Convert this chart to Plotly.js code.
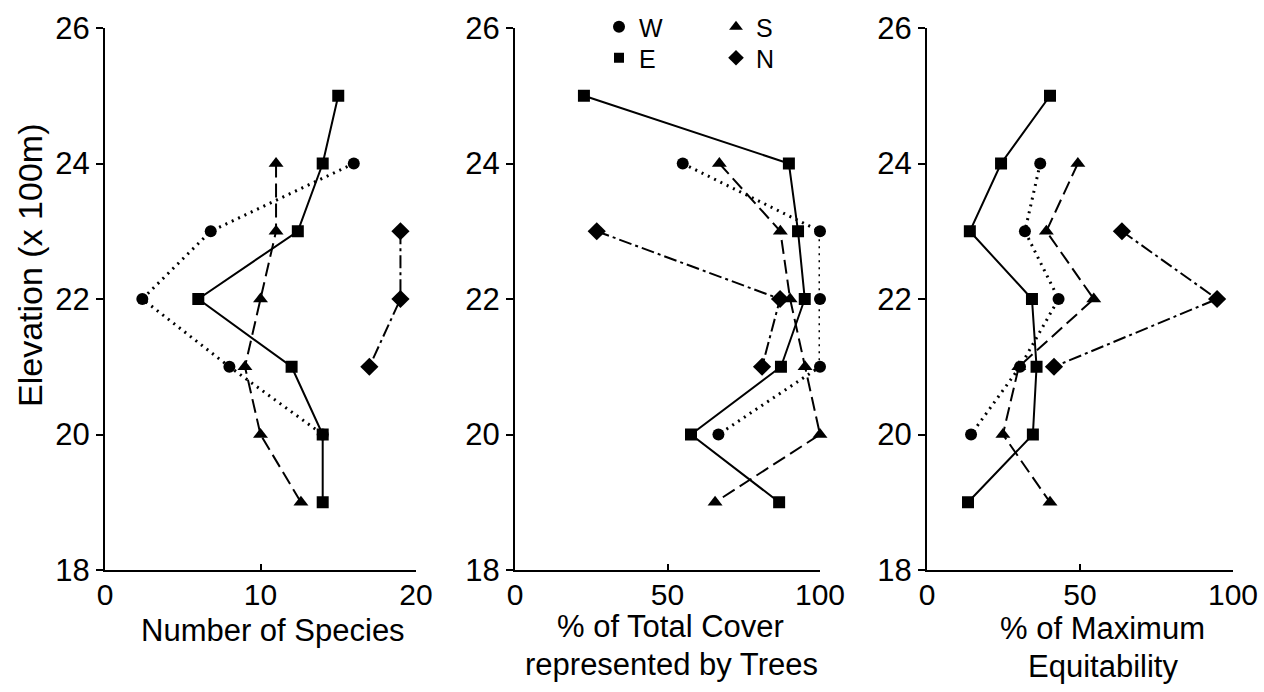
<!DOCTYPE html>
<html>
<head>
<meta charset="utf-8">
<script src="https://cdn.plot.ly/plotly-3.0.1.min.js"></script>
<style>html,body{margin:0;padding:0;background:#fff;}#chart{width:1264px;height:692px;}</style>
</head>
<body>
<div id="chart"></div>
<script>
// Elevation (x 100m) for each series
const elevE = [25, 24, 23, 22, 21, 20, 19];
const elevW = [24, 23, 22, 21, 20];
const elevS = [24, 23, 22, 21, 20, 19];
const elevN = [23, 22, 21];

// Panel 1: Number of Species
const speciesE = [15, 14, 12.4, 6, 12, 14, 14];
const speciesW = [16, 6.8, 2.4, 8, 14];
const speciesS = [11, 11, 10, 9, 10, 12.6];
const speciesN = [19, 19, 17];

// Panel 2: % of Total Cover represented by Trees
const coverE = [22.6, 89.8, 92.8, 95, 87.2, 57.7, 86.6];
const coverW = [55, 100, 100, 100, 66.7];
const coverS = [67, 87, 90.2, 95.1, 100, 65.6];
const coverN = [26.8, 86.9, 81];

// Panel 3: % of Maximum Equitability
const equitE = [40.2, 24.2, 14, 34.3, 35.8, 34.6, 13.4];
const equitW = [37, 32, 43, 30.4, 14.4];
const equitS = [49.3, 39, 54.5, 30, 24.8, 40.2];
const equitN = [63.7, 94.8, 41.5];

const yTicks = [18, 20, 22, 24, 26];
const x1Ticks = [0, 10, 20];
const x23Ticks = [0, 50, 100];

const titleY = 'Elevation (x 100m)';
const titleX1 = 'Number of Species';
const titleX2 = ['% of Total Cover', 'represented by Trees'];
const titleX3 = ['% of Maximum', 'Equitability'];

const styles = {
  W: {symbol: 'circle', dash: '2px,5px', width: 3, size: 12},
  S: {symbol: 'triangle-up', dash: '14px,6px', width: 2, size: 13},
  E: {symbol: 'square', dash: 'solid', width: 2, size: 12},
  N: {symbol: 'diamond', dash: '13px,4px,3px,4px', width: 2, size: 14}
};

const panels = [
  {xa: 'x', ya: 'y', data: {E: speciesE, W: speciesW, S: speciesS, N: speciesN}},
  {xa: 'x2', ya: 'y2', data: {E: coverE, W: coverW, S: coverS, N: coverN}},
  {xa: 'x3', ya: 'y3', data: {E: equitE, W: equitW, S: equitS, N: equitN}}
];
const elev = {E: elevE, W: elevW, S: elevS, N: elevN};

const traces = [];
panels.forEach(p => {
  ['E', 'W', 'S', 'N'].forEach(k => {
    traces.push({
      type: 'scatter', mode: 'lines+markers', cliponaxis: false,
      x: p.data[k], y: elev[k], xaxis: p.xa, yaxis: p.ya,
      line: {color: '#000', width: styles[k].width, dash: styles[k].dash},
      marker: {color: '#000', size: styles[k].size, symbol: styles[k].symbol},
      showlegend: false, hoverinfo: 'x+y'
    });
  });
});
// legend entries (markers only): row 1 W, S ; row 2 E, N
[['W', 'legend'], ['S', 'legend'], ['E', 'legend2'], ['N', 'legend2']].forEach(([k, lg]) => {
  traces.push({
    type: 'scatter', mode: 'markers', x: [null], y: [null], xaxis: 'x2', yaxis: 'y2',
    name: k, legend: lg,
    marker: {color: '#000', size: k === 'E' ? 10 : 12, symbol: styles[k].symbol},
    showlegend: true
  });
});

const FONT = 'Liberation Sans, Arial, sans-serif';
const W = 1264, H = 692;
const yDom = [1 - 570 / H, 1 - 28 / H];
const TICKSIZE = 30, TITLESIZE = 31;

function yAxis(anchor) {
  return {
    domain: yDom, anchor: anchor, range: [18, 26], tickvals: yTicks,
    showline: true, linecolor: '#000', linewidth: 2, showgrid: false, zeroline: false,
    ticks: 'outside', ticklen: 7, tickwidth: 2, tickcolor: '#000',
    tickfont: {family: FONT, size: TICKSIZE + 1, color: '#000'}, fixedrange: true
  };
}
function xAxis(anchor, dom, range, tv) {
  return {
    domain: dom, anchor: anchor, range: range, tickvals: tv,
    showline: true, linecolor: '#000', linewidth: 2, showgrid: false, zeroline: false,
    ticks: 'inside', ticklen: 6, tickwidth: 2, tickcolor: '#000',
    tickfont: {family: FONT, size: TICKSIZE, color: '#000'},
    ticklabelstandoff: -3,
    fixedrange: true
  };
}

function ann(text, px, py, angle, size) {
  return {text: text, x: px / W, y: 1 - py / H, xref: 'paper', yref: 'paper',
          xanchor: 'center', yanchor: 'middle', showarrow: false,
          font: {family: FONT, size: size || TITLESIZE, color: '#000'}, textangle: angle || 0};
}

const legendBase = {
  xanchor: 'left', yanchor: 'middle', orientation: 'h',
  entrywidth: 72, entrywidthmode: 'pixels',
  font: {family: FONT, size: 25, color: '#000'},
  bgcolor: 'rgba(0,0,0,0)', itemwidth: 30, tracegroupgap: 0
};

const layout = {
  width: W, height: H,
  margin: {l: 0, r: 0, t: 0, b: 0},
  paper_bgcolor: '#fff', plot_bgcolor: '#fff',
  font: {family: FONT, color: '#000'},
  showlegend: true,
  legend: Object.assign({}, legendBase, {x: 599 / W, y: 1 - 27 / H}),
  legend2: Object.assign({}, legendBase, {x: 599 / W, y: 1 - 58 / H}),
  xaxis: xAxis('y', [105 / W, 416 / W], [0, 20], x1Ticks),
  xaxis2: xAxis('y2', [515 / W, 820 / W], [0, 100], x23Ticks),
  xaxis3: xAxis('y3', [927 / W, 1233 / W], [0, 100], x23Ticks),
  yaxis: yAxis('x'),
  yaxis2: yAxis('x2'),
  yaxis3: yAxis('x3'),
  annotations: [
    ann(titleY, 30, 266, -90, 34),
    ann(titleX1, 273, 630),
    ann(titleX2[0], 670, 626),
    ann(titleX2[1], 672, 664),
    ann(titleX3[0], 1102, 628),
    ann(titleX3[1], 1103, 666)
  ]
};

Plotly.newPlot('chart', traces, layout, {displayModeBar: false, staticPlot: true});
</script>
</body>
</html>
